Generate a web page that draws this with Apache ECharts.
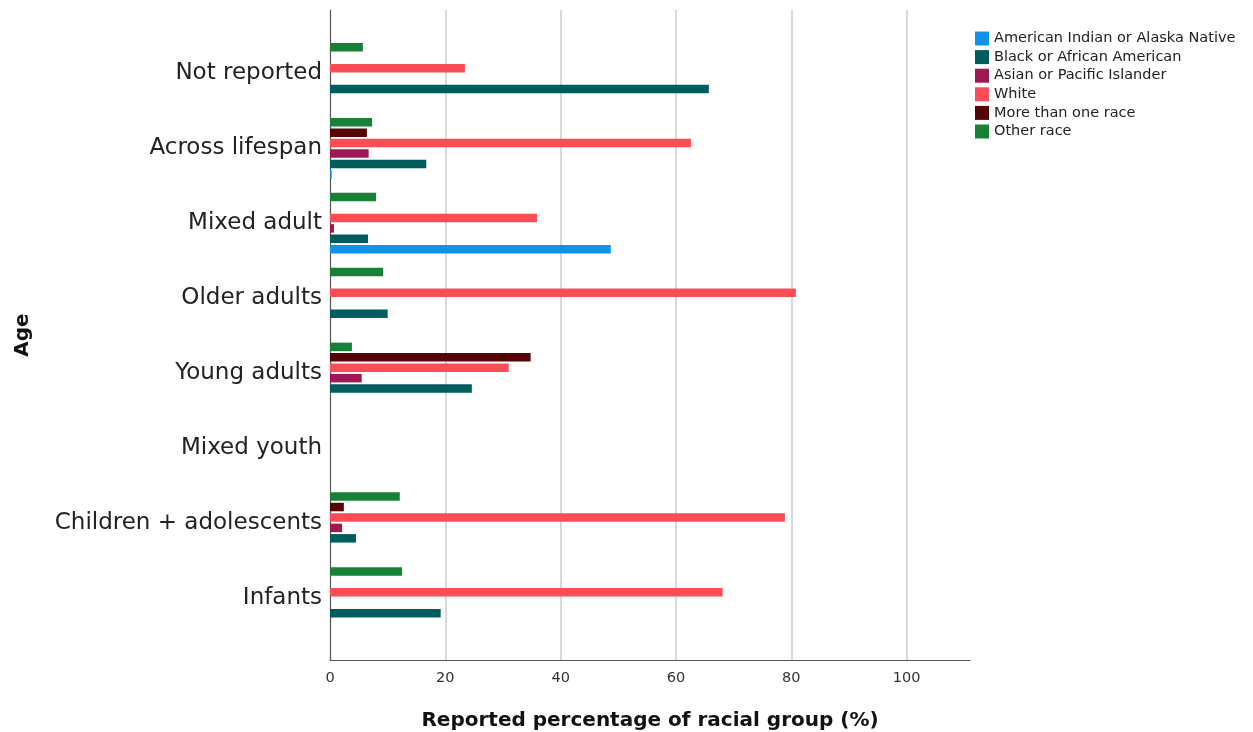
<!DOCTYPE html>
<html><head><meta charset="utf-8">
<script src="https://cdn.jsdelivr.net/npm/echarts@6/dist/echarts.min.js"></script>
<style>html,body{margin:0;padding:0;background:#fff}#c{width:1253px;height:732px}</style>
</head><body><div id="c"></div>
<script>
// Categories top to bottom
const categories = ['Not reported','Across lifespan','Mixed adult','Older adults','Young adults','Mixed youth','Children + adolescents','Infants'];
const seriesNames = ['American Indian or Alaska Native','Black or African American','Asian or Pacific Islander','White','More than one race','Other race'];
const aiValues    = [0,   0.3, 48.7, 0,    0,    0, 0,    0];
const blackValues = [65.7,16.7, 6.6, 10.0, 24.6, 0, 4.5,  19.2];
const asianValues = [0,   6.7,  0.7, 0,    5.5,  0, 2.1,  0];
const whiteValues = [23.4,62.6, 35.9,80.8, 31.0, 0, 78.9, 68.1];
const multiValues = [0,   6.4,  0,   0,    34.8, 0, 2.4,  0];
const otherValues = [5.7, 7.3,  8.0, 9.2,  3.8,  0, 12.1, 12.5];
const xTicks = [0,20,40,60,80,100];

const colors = ['#1192e8','#005d5d','#9f1853','#fa4d56','#570408','#198038'];
const allValues = [aiValues,blackValues,asianValues,whiteValues,multiValues,otherValues];
const font = 'DejaVu Sans';

const chart = echarts.init(document.getElementById('c'));
// series drawn in reverse so that the first group sits at the bottom of each band
const series = seriesNames.map((n,i)=>({
  name:n, type:'bar', xAxisIndex:1, yAxisIndex:1,
  data: allValues[i].map(v=>v===0?null:v),
  itemStyle:{color:colors[i]},
  barGap:'23%', barCategoryGap:'19%'
})).reverse();
chart.setOption({
  animation:false,
  legend:{
    data:seriesNames, orient:'vertical', left:975, top:31, padding:0,
    itemWidth:14, itemHeight:14, itemGap:3.6, icon:'rect',
    textStyle:{fontFamily:font, fontSize:14.5, color:'#222'}
  },
  grid:[
    {left:330, top:10, width:640, height:650, outerBoundsMode:'none', containLabel:false},
    {left:330, top:36, width:640, height:599, outerBoundsMode:'none', containLabel:false}
  ],
  xAxis:[
    {gridIndex:0, type:'value', min:0, max:111, interval:20,
     axisLine:{show:true, lineStyle:{color:'#555', width:1.2}},
     axisTick:{show:false},
     axisLabel:{showMaxLabel:false, margin:11, fontFamily:font, fontSize:14.5, color:'#333',
       formatter:v=>xTicks.includes(v)?String(v):''},
     splitLine:{show:true, showMinLine:false, showMaxLine:false, lineStyle:{color:'#cccccc', width:1.5}},
     name:'Reported percentage of racial group (%)', nameLocation:'middle', nameGap:51,
     nameTextStyle:{fontFamily:font, fontSize:20, fontWeight:'bold', color:'#111'}
    },
    {gridIndex:1, type:'value', min:0, max:111, show:false}
  ],
  yAxis:[
    {gridIndex:0, type:'value', min:0, max:1,
     axisLine:{show:true, lineStyle:{color:'#555', width:1.2}},
     axisTick:{show:false}, axisLabel:{show:false}, splitLine:{show:false},
     name:'Age', nameLocation:'middle', nameGap:297, nameRotate:90,
     nameTextStyle:{fontFamily:font, fontSize:20, fontWeight:'bold', color:'#111'}
    },
    {gridIndex:1, type:'category', data:categories, inverse:true,
     axisLine:{show:false}, axisTick:{show:false}, splitLine:{show:false},
     axisLabel:{margin:8, fontFamily:font, fontSize:23, color:'#222'}
    }
  ],
  series: series
});
</script></body></html>
